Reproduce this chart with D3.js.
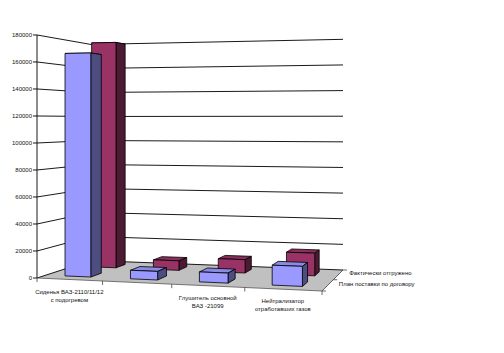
<!DOCTYPE html>
<html>
<head>
<meta charset="utf-8">
<script src="https://cdn.jsdelivr.net/npm/d3@7/dist/d3.min.js"></script>
<style>
  html, body { margin: 0; padding: 0; background: #fff; }
  svg { display: block; }
  text { font-family: "Liberation Sans", Arial, sans-serif; fill: #111; }
</style>
</head>
<body>
<svg id="chart" width="504" height="353"></svg>
<script>
// ---- data ----
const categoryLines = [
  ["Сиденья ВАЗ-2110/11/12", "с подогревом"],
  [],
  ["Глушитель основной", "ВАЗ -21099"],
  ["Нейтрализатор", "отработавших газов"]
];
const seriesNames = ["План поставки по договору", "Фактически отгружено"];
const planValues = [167000, 6300, 7200, 14100];
const factValues = [178500, 7400, 10200, 17000];
const valueTicks = [0, 20000, 40000, 60000, 80000, 100000, 120000, 140000, 160000, 180000];
const seriesColors = ["#9999ff", "#993366"];

// ---- projection (perspective floor) ----
const FL = [37, 278], FR = [322, 291], BR = [343, 270], BL = [91, 260.5];
const horizon = 120.5, rise = 1.543;
function makeHomography(p0, p1, p2, p3) {
  const [x0, y0] = p0, [x1, y1] = p1, [x2, y2] = p2, [x3, y3] = p3;
  const dx1 = x1 - x2, dx2 = x3 - x2, dx3 = x0 - x1 + x2 - x3;
  const dy1 = y1 - y2, dy2 = y3 - y2, dy3 = y0 - y1 + y2 - y3;
  const den = dx1 * dy2 - dx2 * dy1;
  const g = (dx3 * dy2 - dx2 * dy3) / den;
  const h = (dx1 * dy3 - dx3 * dy1) / den;
  const a = x1 - x0 + g * x1, b = x3 - x0 + h * x3, c = x0;
  const d = y1 - y0 + g * y1, e = y3 - y0 + h * y3, f = y0;
  return (u, v) => {
    const w = g * u + h * v + 1;
    return [(a * u + b * v + c) / w, (d * u + e * v + f) / w];
  };
}
const floorPt = makeHomography(FL, FR, BR, BL);
const valueScale = d3.scaleLinear().domain([0, 180000]).range([0, 1]);
function P(u, d, val) {
  const [x, y] = floorPt(u, d);
  const t = valueScale(val);
  return [x, y - rise * (y - horizon) * t];
}

const catScale = d3.scaleBand().domain(d3.range(categoryLines.length)).range([0, 1])
  .paddingInner(0.6).paddingOuter(0.3);
const depthScale = d3.scaleBand().domain(d3.range(seriesNames.length)).range([0, 1])
  .paddingInner(0.6).paddingOuter(0.3);
const catEdge = d3.scaleLinear().domain([0, categoryLines.length]).range([0, 1]);
const depthEdge = d3.scaleLinear().domain([0, seriesNames.length]).range([0, 1]);

const svg = d3.select("#chart");
const line = d3.line();

// floor
svg.append("path")
  .attr("d", line([P(0,0,0), P(1,0,0), P(1,1,0), P(0,1,0)]) + "Z")
  .attr("fill", "#c0c0c0").attr("stroke", "none");

// gridlines on left and back walls
const grid = svg.append("g").attr("fill", "none").attr("stroke", "#000").attr("stroke-width", 0.9);
valueTicks.forEach(v => {
  grid.append("path").attr("d", line([P(0,0,v), P(0,1,v), P(1,1,v)]));
});

// value axis
const maxV = valueTicks[valueTicks.length - 1];
svg.append("path").attr("d", line([P(0,0,0), P(0,0,maxV)]))
  .attr("stroke", "#000").attr("stroke-width", 0.9).attr("fill", "none");
valueTicks.forEach(v => {
  const [x, y] = P(0, 0, v);
  svg.append("line").attr("x1", x - 4).attr("x2", x).attr("y1", y).attr("y2", y)
    .attr("stroke", "#000").attr("stroke-width", 0.9);
  svg.append("text").attr("x", x - 5).attr("y", y).attr("dy", "0.35em")
    .attr("text-anchor", "end").attr("font-size", 6).text(v);
});

// category axis (front floor edge)
svg.append("path").attr("d", line([P(0,0,0), P(1,0,0)]))
  .attr("stroke", "#555").attr("stroke-width", 0.8).attr("fill", "none");
d3.range(categoryLines.length + 1).forEach(i => {
  const [x, y] = P(catEdge(i), 0, 0);
  svg.append("line").attr("x1", x).attr("x2", x).attr("y1", y).attr("y2", y + 4)
    .attr("stroke", "#444").attr("stroke-width", 0.8);
});
// depth axis (right floor edge)
svg.append("path").attr("d", line([P(1,0,0), P(1,1,0)]))
  .attr("stroke", "#444").attr("stroke-width", 0.8).attr("fill", "none");
d3.range(seriesNames.length + 1).forEach(i => {
  const [x, y] = P(1, depthEdge(i), 0);
  svg.append("line").attr("x1", x).attr("x2", x + 4).attr("y1", y).attr("y2", y)
    .attr("stroke", "#444").attr("stroke-width", 0.8);
});

// bars: back series first, left to right
const series = [planValues, factValues];
const barsG = svg.append("g").attr("stroke", "#000").attr("stroke-width", 0.8)
  .attr("stroke-linejoin", "round");
for (let s = series.length - 1; s >= 0; s--) {
  const base = d3.rgb(seriesColors[s]);
  const sideCol = d3.rgb(base.r * 0.5, base.g * 0.5, base.b * 0.5).toString();
  const topCol = d3.rgb(base.r * 0.9, base.g * 0.9, base.b * 0.9).toString();
  series[s].forEach((v, i) => {
    const u0 = catScale(i), u1 = u0 + catScale.bandwidth();
    const d0 = depthScale(s), d1 = d0 + depthScale.bandwidth();
    // top
    barsG.append("path").attr("d", line([P(u0,d0,v), P(u1,d0,v), P(u1,d1,v), P(u0,d1,v)]) + "Z")
      .attr("fill", topCol);
    // right side
    barsG.append("path").attr("d", line([P(u1,d0,0), P(u1,d1,0), P(u1,d1,v), P(u1,d0,v)]) + "Z")
      .attr("fill", sideCol);
    // front
    barsG.append("path").attr("d", line([P(u0,d0,0), P(u1,d0,0), P(u1,d0,v), P(u0,d0,v)]) + "Z")
      .attr("fill", base.toString());
  });
}

// category labels
categoryLines.forEach((lines, i) => {
  const [x, y] = P(catScale(i) + catScale.bandwidth() / 2, 0, 0);
  lines.forEach((t, k) => {
    svg.append("text").attr("x", x).attr("y", y + 12 + k * 8).attr("dy", "0.35em")
      .attr("text-anchor", "middle").attr("font-size", 6).text(t);
  });
});

// series labels along depth axis
seriesNames.forEach((name, s) => {
  const [x, y] = P(1, depthScale(s) + depthScale.bandwidth() / 2, 0);
  svg.append("text").attr("x", x + 11).attr("y", y - 1.5).attr("dy", "0.35em")
    .attr("text-anchor", "start").attr("font-size", 6).text(name);
});
</script>
</body>
</html>
